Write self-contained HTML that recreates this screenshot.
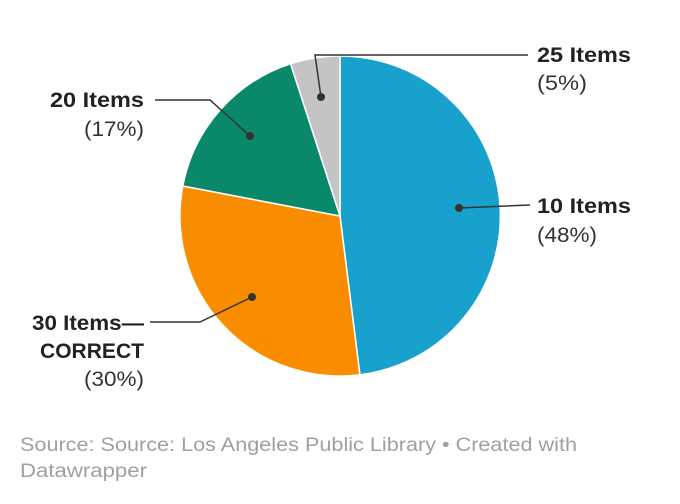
<!DOCTYPE html>
<html><head><meta charset="utf-8"><style>
html,body{margin:0;padding:0;background:#fff;width:680px;height:504px;overflow:hidden}
svg{display:block}
.b{font-family:"Liberation Sans",sans-serif;font-weight:bold;font-size:21px;fill:#222}
.n{font-family:"Liberation Sans",sans-serif;font-size:21px;fill:#333}
.s{font-family:"Liberation Sans",sans-serif;font-size:19px;fill:#a0a0a0}
</style></head><body>
<svg width="680" height="504" viewBox="0 0 680 504">
<g stroke="#fff" stroke-width="1.5">
<path d="M340,216 L340,56 A160,160 0 0 1 359.9,374.8 Z" fill="#18a1cd"/>
<path d="M340,216 L359.9,374.8 A160,160 0 0 1 182.8,186.0 Z" fill="#fa8c00"/>
<path d="M340,216 L182.8,186.0 A160,160 0 0 1 290.6,63.8 Z" fill="#09896a"/>
<path d="M340,216 L290.6,63.8 A160,160 0 0 1 340,56 Z" fill="#c4c4c4"/>
</g>
<g stroke="#333" stroke-width="1.5" fill="none">
<polyline points="459,208 530,205"/>
<polyline points="321,97 315,55 528,55"/>
<polyline points="155,100 210,100 250,136"/>
<polyline points="252,297 200,322 150,322"/>
</g>
<g fill="#333">
<circle cx="459" cy="208" r="4"/><circle cx="321" cy="97" r="4"/>
<circle cx="250" cy="136" r="4"/><circle cx="252" cy="297" r="4"/>
</g>
<text class="b" x="537" y="62" textLength="94" lengthAdjust="spacingAndGlyphs">25 Items</text>
<text class="n" x="537" y="90" textLength="50" lengthAdjust="spacingAndGlyphs">(5%)</text>
<text class="b" x="537" y="213" textLength="94" lengthAdjust="spacingAndGlyphs">10 Items</text>
<text class="n" x="537" y="242" textLength="60" lengthAdjust="spacingAndGlyphs">(48%)</text>
<text class="b" x="50" y="107" textLength="94" lengthAdjust="spacingAndGlyphs">20 Items</text>
<text class="n" x="84" y="136" textLength="60" lengthAdjust="spacingAndGlyphs">(17%)</text>
<text class="b" x="32" y="330" textLength="112" lengthAdjust="spacingAndGlyphs">30 Items—</text>
<text class="b" x="40" y="358" textLength="104" lengthAdjust="spacingAndGlyphs">CORRECT</text>
<text class="n" x="84" y="386" textLength="60" lengthAdjust="spacingAndGlyphs">(30%)</text>
<text class="s" x="20" y="451" textLength="557" lengthAdjust="spacingAndGlyphs">Source: Source: Los Angeles Public Library • Created with</text>
<text class="s" x="20" y="477" textLength="127" lengthAdjust="spacingAndGlyphs">Datawrapper</text>
</svg>
</body></html>
